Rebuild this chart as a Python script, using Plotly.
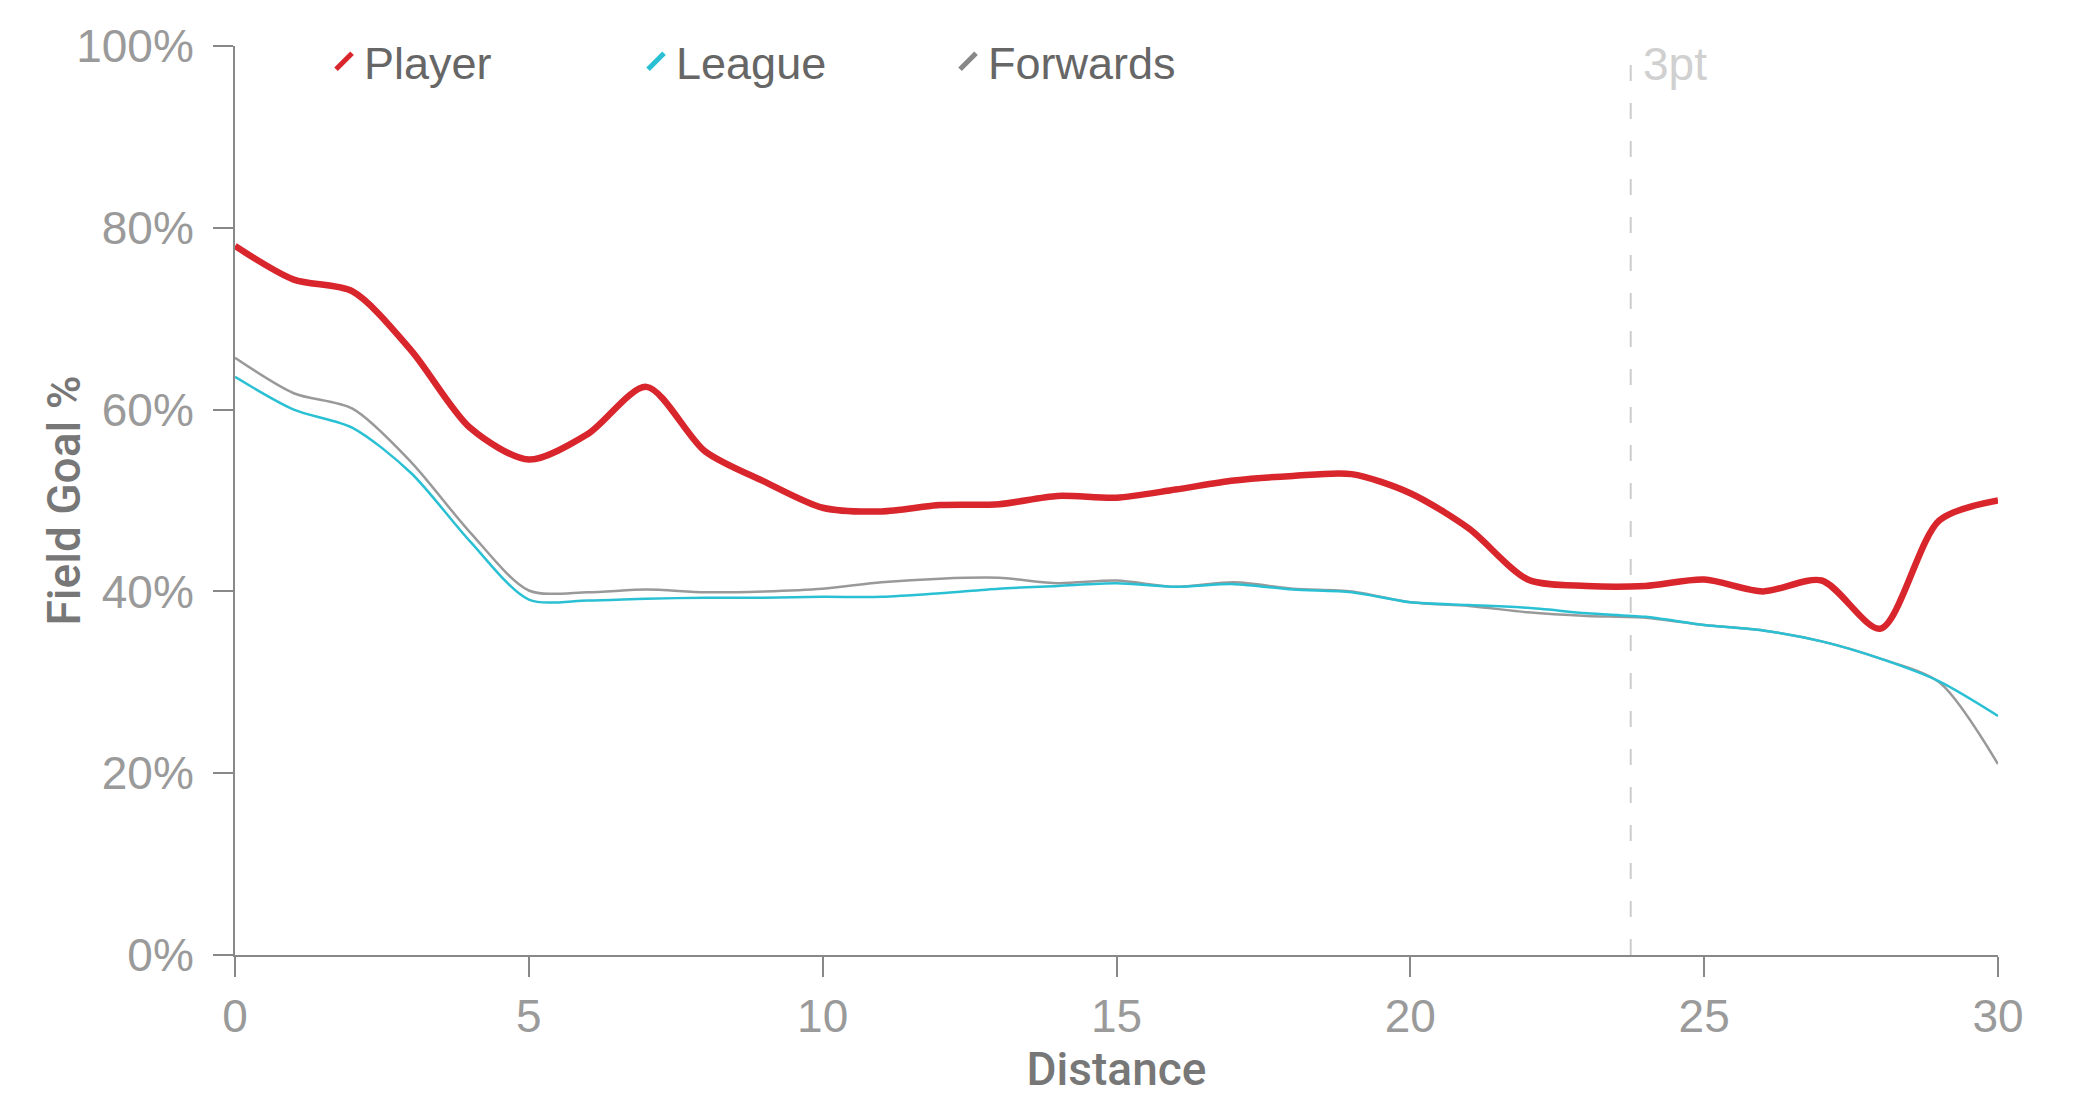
import plotly.graph_objects as go

# ---- data ----
distance = list(range(0, 31))
player = [78.0, 74.3, 73.0, 66.5, 58.0, 54.5, 57.3, 62.5, 55.4, 52.1,
          49.2, 48.8, 49.5, 49.6, 50.5, 50.3, 51.2, 52.2, 52.7, 52.9,
          50.8, 46.9, 41.3, 40.6, 40.6, 41.3, 40.0, 41.2, 35.9, 47.8,
          50.0]
league = [63.6, 60.0, 58.0, 53.0, 45.5, 39.1, 39.0, 39.2, 39.3, 39.3,
          39.4, 39.4, 39.8, 40.3, 40.6, 40.9, 40.5, 40.8, 40.2, 39.9,
          38.8, 38.5, 38.2, 37.6, 37.2, 36.3, 35.7, 34.5, 32.6, 30.1,
          26.3]
forwards = [65.7, 61.8, 60.1, 54.2, 46.5, 40.1, 39.9, 40.2, 39.9, 40.0,
            40.3, 41.0, 41.4, 41.5, 40.9, 41.2, 40.5, 41.0, 40.3, 40.0,
            38.8, 38.4, 37.7, 37.3, 37.1, 36.3, 35.7, 34.5, 32.6, 30.0,
            21.0]
series_names = ["Player", "League", "Forwards"]
three_pt = 23.75
x_ticks = [0, 5, 10, 15, 20, 25, 30]
y_ticks = [0, 20, 40, 60, 80, 100]
y_ticktext = [f"{v}%" for v in y_ticks]

RED = "#d8262c"
CYAN = "#2ac0d4"
GRAY = "#999999"
FONT = "Liberation Sans, Arial, sans-serif"
TITLE_FONT = "Roboto, Liberation Sans, Arial, sans-serif"

fig = go.Figure()

# data lines
fig.add_trace(go.Scatter(x=distance, y=forwards, mode="lines", name=series_names[2],
                         line=dict(color=GRAY, width=2.5, shape="spline", smoothing=0.8),
                         showlegend=False))
fig.add_trace(go.Scatter(x=distance, y=league, mode="lines", name=series_names[1],
                         line=dict(color=CYAN, width=2.5, shape="spline", smoothing=0.8),
                         showlegend=False))
fig.add_trace(go.Scatter(x=distance, y=player, mode="lines", name=series_names[0],
                         line=dict(color=RED, width=6.5, shape="spline", smoothing=0.8),
                         showlegend=False))

# legend entries (diagonal strokes)
for name, col in zip(series_names, [RED, CYAN, "#888888"]):
    fig.add_trace(go.Scatter(x=[None], y=[None], mode="markers", name=name,
                             marker=dict(symbol="line-ne", size=30, color=col,
                                         line=dict(color=col, width=9))))

# 3pt reference line
fig.add_vline(x=three_pt, line=dict(color="#cccccc", width=2, dash="16px,22px"))
fig.add_annotation(x=three_pt, y=0.98, xref="x", yref="paper", text="3pt",
                   showarrow=False, xanchor="left", yanchor="middle", xshift=10,
                   font=dict(family=FONT, size=46, color="#d0d0d0"))

# y-axis title placed like the reference
fig.add_annotation(x=0, y=0.5, xref="paper", yref="paper", text="Field Goal %",
                   textangle=-90, showarrow=False, xanchor="center", yanchor="middle",
                   xshift=-172,
                   font=dict(family=TITLE_FONT, size=46, color="#777777", weight=500))

axis_common = dict(showline=True, linecolor="#888888", linewidth=2,
                   ticks="outside", ticklen=20, tickwidth=2, tickcolor="#888888",
                   showgrid=False, zeroline=False,
                   tickfont=dict(family=FONT, size=46, color="#9a9a9a"))

fig.update_layout(
    width=2075, height=1094,
    margin=dict(l=227, r=85, t=19, b=147),
    paper_bgcolor="white", plot_bgcolor="white",
    font=dict(family=FONT),
    xaxis=dict(range=[0, 30], tickvals=x_ticks,
               title=dict(text="Distance", standoff=12,
                          font=dict(family=TITLE_FONT, size=46, color="#777777",
                                    weight=500)),
               **axis_common),
    yaxis=dict(range=[0, 100], tickvals=y_ticks, ticktext=y_ticktext,
               ticklabelstandoff=10,
               **axis_common),
    legend=dict(orientation="h", x=0.0505, y=0.983, xanchor="left", yanchor="middle",
                entrywidth=267, entrywidthmode="pixels",
                font=dict(family=FONT, size=45, color="#666666"),
                bgcolor="rgba(0,0,0,0)"),
    showlegend=True,
)

fig.write_html("out.html")
